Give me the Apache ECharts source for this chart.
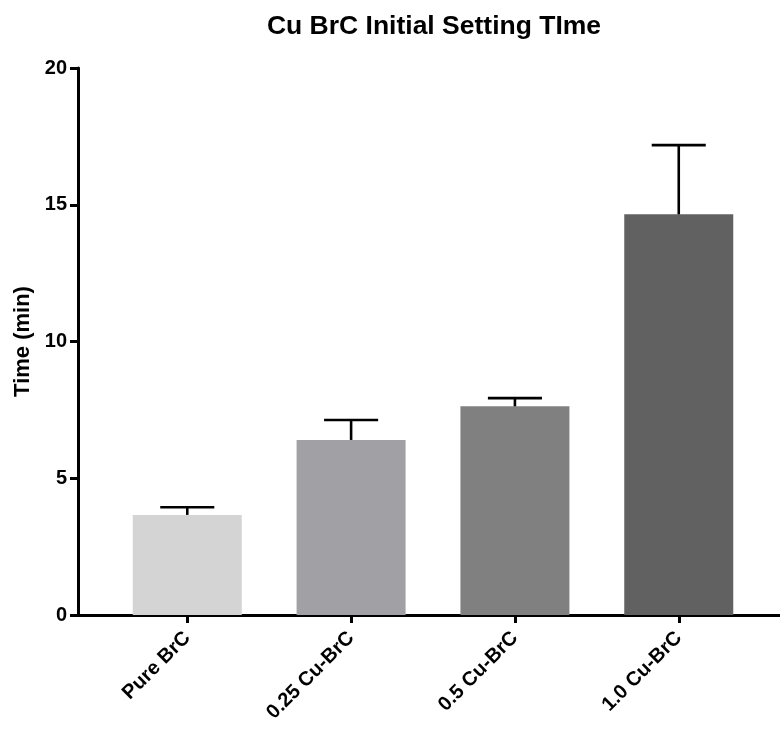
<!DOCTYPE html>
<html>
<head>
<meta charset="utf-8">
<script src="https://cdn.jsdelivr.net/npm/echarts@6/dist/echarts.min.js"></script>
<style>html,body{margin:0;padding:0;background:#fff}#c{width:780px;height:730px}</style>
</head>
<body>
<div id="c"></div>
<script>
const categories = ['Pure BrC', '0.25 Cu-BrC', '0.5 Cu-BrC', '1.0 Cu-BrC'];
const means = [3.66, 6.40, 7.63, 14.65];
const errors = [0.28, 0.73, 0.30, 2.53];
const barColors = ['#d4d4d4', '#a1a1a5', '#808080', '#616161'];
const yTicks = [0, 5, 10, 15, 20];

const FONT = "'Liberation Sans', Arial, Helvetica, sans-serif";
const chart = echarts.init(document.getElementById('c'), null, {renderer: 'canvas'});

const barData = means.map((m, i) => ({value: [i, m], itemStyle: {color: barColors[i]}}));
const errData = means.map((m, i) => [i, m, m + errors[i]]);
const idx = categories.map((c, i) => i);

chart.setOption({
  animation: false,
  backgroundColor: '#fff',
  title: {
    text: 'Cu BrC Initial Setting TIme',
    left: 429, top: 8, textAlign: 'center',
    textStyle: {fontFamily: FONT, fontWeight: 'bold', fontSize: 26.5, color: '#000'}
  },
  grid: {left: 78, right: 0, top: 68, bottom: 115, containLabel: false},
  xAxis: {
    type: 'value', min: -0.667, max: 3.618,
    splitLine: {show: false},
    axisLine: {show: true, onZero: false, lineStyle: {color: '#000', width: 3}},
    axisTick: {show: true, customValues: idx, length: 8, lineStyle: {color: '#000', width: 3}},
    axisLabel: {
      customValues: idx, rotate: 45, margin: 20,
      formatter: v => categories[Math.round(v)] || '',
      fontFamily: FONT, fontWeight: 'bold', fontSize: 20, color: '#000'
    }
  },
  yAxis: {
    type: 'value', min: yTicks[0], max: yTicks[yTicks.length - 1], interval: 5,
    name: 'Time (min)', nameLocation: 'middle', nameGap: 42,
    nameTextStyle: {fontFamily: FONT, fontWeight: 'bold', fontSize: 22, color: '#000'},
    splitLine: {show: false},
    axisLine: {show: true, onZero: false, lineStyle: {color: '#000', width: 3}},
    axisTick: {show: true, length: 8, lineStyle: {color: '#000', width: 3}},
    axisLabel: {margin: 11, fontFamily: FONT, fontWeight: 'bold', fontSize: 20, color: '#000'}
  },
  series: [
    {
      type: 'bar', data: barData, barWidth: 109, z: 1
    },
    {
      type: 'custom', data: errData, z: 3,
      renderItem: function (params, api) {
        const x = api.value(0), lo = api.value(1), hi = api.value(2);
        const pLo = api.coord([x, lo]);
        const pHi = api.coord([x, hi]);
        const half = api.size([0.165, 0])[0];
        const st = {stroke: '#000', lineWidth: 2.6};
        return {
          type: 'group',
          children: [
            {type: 'line', shape: {x1: pLo[0], y1: pLo[1], x2: pHi[0], y2: pHi[1]}, style: st},
            {type: 'line', shape: {x1: pHi[0] - half, y1: pHi[1], x2: pHi[0] + half, y2: pHi[1]}, style: st}
          ]
        };
      }
    }
  ]
});
</script>
</body>
</html>
